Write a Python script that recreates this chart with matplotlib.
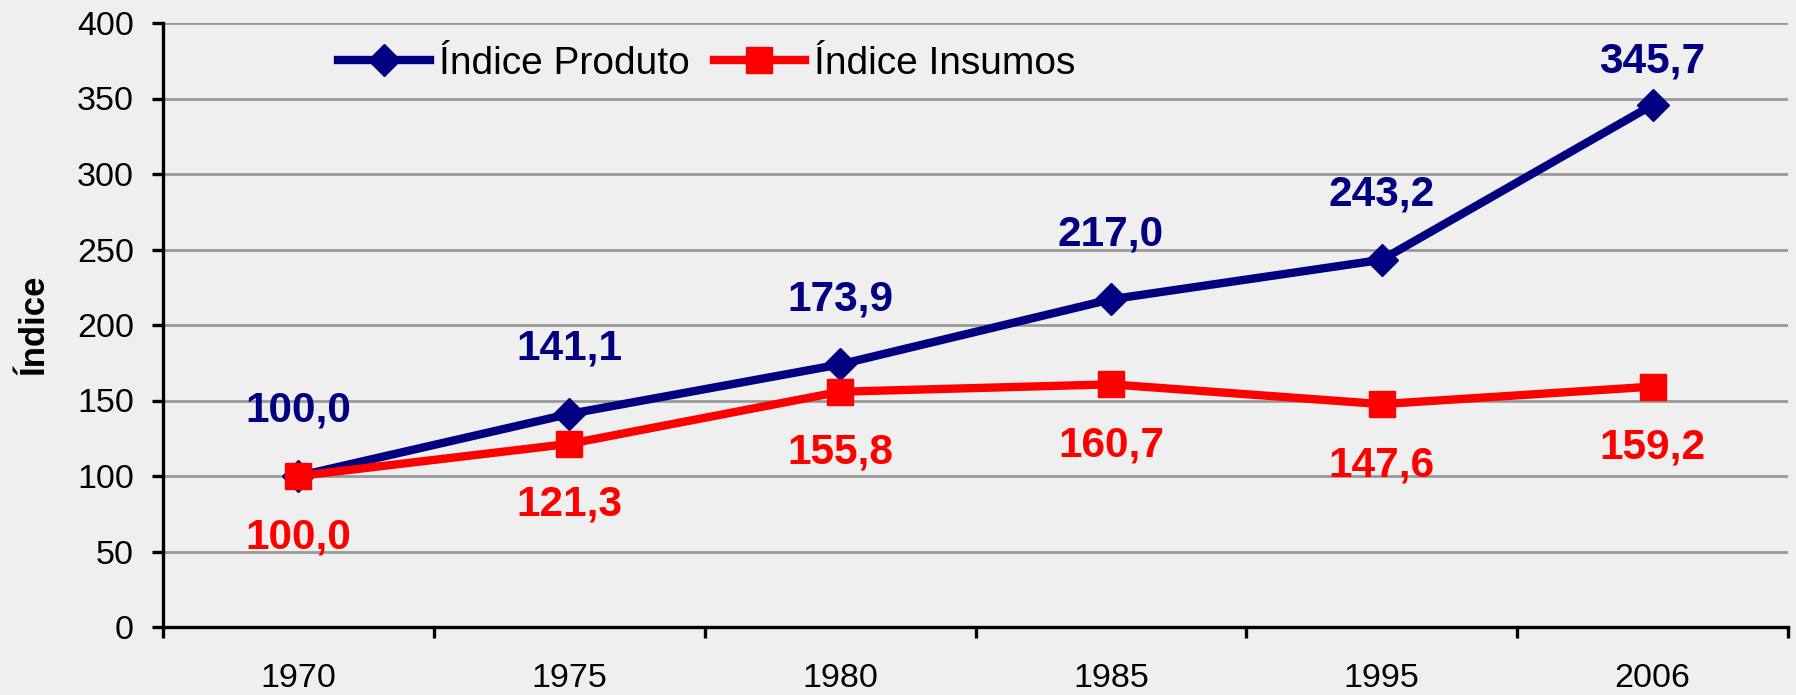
import matplotlib
matplotlib.use('Agg')
import matplotlib.pyplot as plt
from matplotlib.ticker import FixedLocator

plt.rcParams['font.family'] = ['Liberation Sans', 'DejaVu Sans']

# data
anos = ['1970', '1975', '1980', '1985', '1995', '2006']
produto = [100.0, 141.1, 173.9, 217.0, 243.2, 345.7]
insumos = [100.0, 121.3, 155.8, 160.7, 147.6, 159.2]
y_ticks = [0, 50, 100, 150, 200, 250, 300, 350, 400]

azul = '#000080'
vermelho = '#ff0000'
fundo = '#efefef'

fig = plt.figure(figsize=(17.96, 6.95), dpi=100, facecolor=fundo)
ax = fig.add_axes([163 / 1796, 1 - 627 / 695, 1625 / 1796, 604 / 695])
ax.set_facecolor(fundo)

x = list(range(len(anos)))
ax.plot(x, produto, color=azul, lw=6, marker='D', ms=16,
        label='Índice Produto', zorder=3, clip_on=False)
ax.plot(x, insumos, color=vermelho, lw=6, marker='s', ms=19,
        label='Índice Insumos', zorder=4, clip_on=False)

# data labels: the product series above, the input series below
for i, v in enumerate(produto):
    off = 31 if i == len(produto) - 1 else 47
    ax.annotate(f'{v:.1f}'.replace('.', ','), (i, v), xytext=(0, off),
                textcoords='offset points', ha='center', va='center',
                color=azul, fontsize=30.5, fontweight='bold', zorder=5)
for i, v in enumerate(insumos):
    ax.annotate(f'{v:.1f}'.replace('.', ','), (i, v), xytext=(0, -44),
                textcoords='offset points', ha='center', va='center',
                color=vermelho, fontsize=30.5, fontweight='bold', zorder=5)

ax.set_ylim(0, 400)
ax.set_yticks(y_ticks)
ax.set_xlim(-0.5, len(anos) - 0.5)

# category axis: ticks between categories, labels at centres
ax.xaxis.set_major_locator(FixedLocator([i - 0.5 for i in range(len(anos) + 1)]))
ax.xaxis.set_minor_locator(FixedLocator(x))
ax.set_xticklabels([''] * (len(anos) + 1))
ax.set_xticklabels(anos, minor=True)
ax.tick_params(axis='x', which='major', direction='out', length=8, width=2.4)
ax.tick_params(axis='x', which='minor', length=0, pad=26, labelsize=24.5)
ax.tick_params(axis='y', direction='out', length=8, width=2.4, pad=13, labelsize=24.5)

ax.grid(axis='y', color='#999999', lw=2)
ax.set_axisbelow(True)
for s in ['top', 'right']:
    ax.spines[s].set_visible(False)
for s in ['left', 'bottom']:
    ax.spines[s].set_linewidth(2.4)
    ax.spines[s].set_zorder(6)

ax.set_ylabel('Índice', fontsize=25, fontweight='bold')
ax.yaxis.set_label_coords(-(163 - 50) / 1625, 0.5)

ax.legend(loc='center left', bbox_to_anchor=((338 - 163) / 1625, (627 - 64) / 604),
          ncol=2, frameon=False, fontsize=28, handlelength=2.36,
          handletextpad=0.23, columnspacing=0.62, borderpad=0, borderaxespad=0)

fig.savefig('out.png', dpi=100, facecolor=fundo)
